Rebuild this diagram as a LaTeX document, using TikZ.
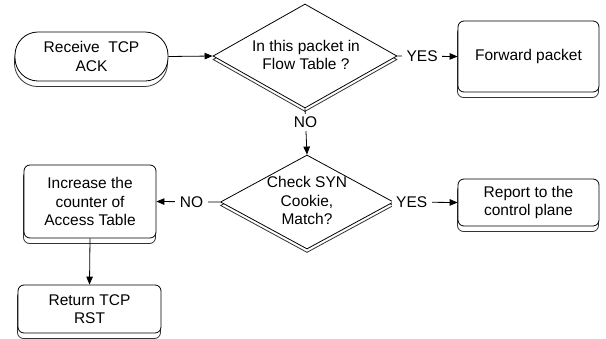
\documentclass[tikz,border=0pt]{standalone}
\usepackage{fontspec}
\setmainfont{Liberation Sans}
\usetikzlibrary{shapes.geometric,shadows,arrows.meta}
\begin{document}
\begin{tikzpicture}[x=1pt,y=-1pt,
  every node/.style={font=\fontsize{15.5}{18.5}\selectfont, align=center},
  base/.style={draw, line width=0.8pt, fill=white,
    copy shadow={shadow xshift=-0.5pt, shadow yshift=-5.5pt, draw=black!80, fill=white, line width=0.8pt}},
  procbox/.style={base, rectangle, rounded corners=6pt, inner sep=0pt},
  termbox/.style={base, rectangle, rounded corners=23pt, inner sep=0pt},
  decbox/.style={draw, line width=0.8pt, fill=white, diamond, inner sep=0pt,
    copy shadow={shadow xshift=0pt, shadow yshift=-3.5pt, draw=black!80, fill=white, line width=0.8pt}},
  lbl/.style={fill=white, inner xsep=4.5pt, inner ysep=2pt},
  conn/.style={line width=0.8pt, -{Triangle[length=8pt,width=6.5pt]}}]
\useasboundingbox (0,0) rectangle (606,338);

\node[termbox, minimum width=153pt, minimum height=49pt] (recv) at (91.5,56.5) {Receive\ \ TCP\\ACK};
\node[decbox, minimum width=184pt, minimum height=104pt] (d1) at (305,56) {};
\node (d1t) at (306,55) {In this packet in\\Flow Table ?};
\node[procbox, minimum width=141pt, minimum height=71pt] (fwd) at (528.5,56.5) {Forward packet};

\node[decbox, minimum width=173pt, minimum height=94pt] (d2) at (307,202) {};
\node (d2t) at (307,200.5) {Check SYN\\Cookie,\\Match?};
\node[procbox, minimum width=141pt, minimum height=47pt] (rep) at (528.5,202.5) {Report to the\\control plane};
\node[procbox, minimum width=132pt, minimum height=73pt] (acc) at (90,201.5) {Increase the\\counter of\\Access Table};
\node[procbox, minimum width=143pt, minimum height=48pt] (rst) at (89.5,309) {Return TCP\\RST};

\draw[conn] (recv.east) -- (d1.west);
\draw[conn] (d1.east) -- node[lbl, pos=0.41] (yes1) {YES} (fwd.west);
\draw[conn] (d1.south) -- node[lbl, pos=0.3, inner ysep=3pt] (no1) {NO} (d2.north);
\draw[conn] (d2.east) -- node[lbl, pos=0.28] (yes2) {YES} (rep.west);
\draw[conn] (d2.west) -- node[lbl, pos=0.45] (no2) {NO} (acc.east);
\draw[conn] (acc.south) -- (rst.north);
\end{tikzpicture}
\end{document}
